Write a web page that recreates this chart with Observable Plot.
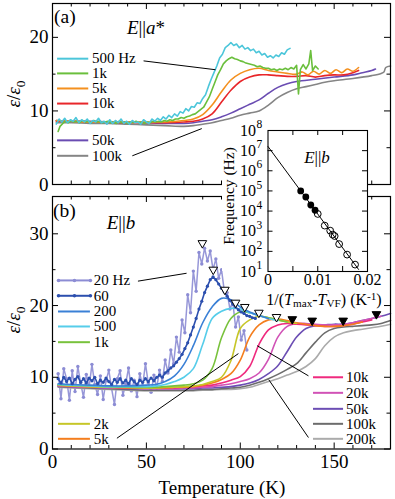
<!DOCTYPE html>
<html><head><meta charset="utf-8">
<script src="https://cdn.jsdelivr.net/npm/d3@7"></script>
<script src="https://cdn.jsdelivr.net/npm/@observablehq/plot@0.6"></script>
<style>
html,body{margin:0;padding:0;background:#fff;}
#wrap{position:relative;width:395px;height:499px;overflow:hidden;background:#fff;font-family:'Liberation Serif',serif;}
#wrap svg{position:absolute;font-family:'Liberation Serif',serif !important;}
#wrap svg text{font-family:'Liberation Serif',serif !important;}
</style></head>
<body><div id="wrap"></div>
<script>
// ---------------- DATA ----------------
// Panel (a): E || a*   (T in K, eps/eps0)
const A_500Hz = [[2,8.2],[3.5,8.9],[5,8.5],[6.5,9.0],[8,8.4],[9.5,8.8],[11,8.6],[12.5,9.1],[14,8.4],[15.5,8.8],[17,8.5],[18.5,8.9],[20,8.3],[21.5,8.7],[23,8.5],[24.5,9.0],[26,8.4],[27.5,8.6],[29,8.2],[30.5,8.8],[32,8.3],[33.5,8.7],[35,8.4],[36.5,8.9],[38,8.3],[39.5,8.6],[41,8.2],[42.5,8.7],[44,8.4],[45.5,8.5],[47,8.2],[48.5,8.8],[50,8.5],[51.5,8.3],[53,8.9],[54.5,8.6],[56,9.0],[57.5,8.7],[59,9.2],[60.5,8.9],[62,9.4],[63.5,9.1],[65,9.6],[66.5,9.3],[68,9.9],[69.5,9.7],[71,10.3],[72.5,10.0],[74,10.6],[75.5,10.5],[77,11.1],[78.5,11.0],[80,11.7],[81.5,12.2],[83,13.3],[84.5,14.3],[86,15.2],[87.5,16.1],[89,17.2],[90.5,17.7],[92,18.6],[93.5,18.9],[95,19.3],[96.5,18.9],[98,19.1],[99.5,18.6],[101,18.9],[102.5,18.4],[104,18.6],[105.5,18.2],[107,18.4],[108.5,17.9],[110,18.1],[111.5,17.6],[113,17.8],[114.5,17.3],[116,17.5],[117.5,17.2],[119,17.6],[120.5,17.4],[122,17.9],[123.5,17.7],[125,18.3],[126.5,18.5]];
const A_1k = [[3,7.2],[4,7.9],[5.5,8.3],[7,8.6],[8.5,8.4],[10,8.7],[11.5,8.5],[13,8.6],[14.5,8.4],[16,8.7],[17.5,8.5],[19,8.6],[20.5,8.4],[22,8.7],[23.5,8.5],[25,8.6],[26.5,8.4],[28,8.5],[29.5,8.6],[31,8.4],[32.5,8.5],[34,8.3],[35.5,8.6],[37,8.4],[38.5,8.5],[40,8.3],[41.5,8.5],[43,8.4],[44.5,8.6],[46,8.4],[47.5,8.5],[49,8.3],[50.5,8.5],[52,8.4],[53.5,8.6],[55,8.5],[56.5,8.6],[58,8.5],[59.5,8.7],[61,8.6],[62.5,8.8],[64,8.7],[65.5,8.9],[67,8.9],[68.5,9.1],[70,9.0],[71.5,9.2],[73,9.3],[74.5,9.5],[76,9.6],[77.5,9.9],[79,10.2],[80.5,10.5],[82,11.2],[83.5,11.9],[85,12.9],[86.5,13.9],[88,14.9],[89.5,15.6],[91,16.4],[92.5,16.8],[94,17.1],[95.5,17.3],[97,17.1],[98.5,17.0],[100,16.8],[101.5,16.7],[103,16.5],[104.5,16.4],[106,16.3],[107.5,16.2],[109,16.0],[110.5,16.1],[112,15.9],[113.5,15.8],[115,15.8],[116.5,15.6],[118,15.7],[119.5,15.5],[121,15.7],[122.5,15.6],[124,15.8],[125.5,15.6],[127,15.9],[128.5,15.7],[130,16.2],[131,12.3],[132,15.6],[133.5,16.3],[135,15.7],[136.5,16.4],[137.5,18.2],[138.5,15.5],[140,16.1],[141.5,15.7]];
const A_5k_T = [2,10,20,30,40,50,60,70,75,80,85,90,95,100,105,110,115,120,125,130,133,136,139,142,145,148,151,154,157,160,163];
const A_5k_V = [8.7,8.6,8.5,8.5,8.5,8.5,8.5,8.7,8.9,9.5,10.8,12.6,14.2,15.1,15.6,15.8,15.5,15.3,15.1,15.0,15.3,14.9,15.4,15.0,15.5,15.1,15.6,15.2,15.7,15.4,15.9];
const A_10k_T = [2,10,20,30,40,50,60,70,75,80,85,90,95,100,105,110,115,120,125,130,135,140,145,150,155,160,163];
const A_10k_V = [8.6,8.6,8.5,8.5,8.4,8.4,8.4,8.5,8.6,8.9,9.6,11.2,12.8,14.0,14.6,14.9,14.9,14.8,14.7,14.7,14.8,14.6,14.8,14.9,14.9,15.2,15.5];
const A_50k_T = [2,10,20,30,40,50,60,70,75,80,85,90,95,100,105,110,115,120,125,130,140,150,160,165,170,172];
const A_50k_V = [8.7,8.6,8.6,8.5,8.5,8.4,8.3,8.3,8.4,8.6,8.8,9.2,9.7,10.3,10.9,11.5,12.4,13.2,13.7,14.0,14.3,14.6,14.9,15.2,15.5,15.7];
const A_100k_T = [2,10,20,30,40,50,60,70,75,80,85,90,95,100,105,110,115,120,125,130,135,140,145,150,160,170,175,176.5,177.5,180];
const A_100k_V = [8.4,8.4,8.3,8.3,8.2,8.1,8.0,7.9,8.0,8.2,8.4,8.7,9.0,9.4,9.7,10.0,10.8,11.8,12.5,13.0,13.3,13.6,13.9,14.1,14.4,14.8,15.1,15.3,15.9,16.1];

// Panel (b): E || b
const B_20Hz = [[3,10.5],[4.5,7.0],[6,11.2],[7.5,9.8],[9,6.8],[10.5,10.9],[12,8.0],[13.5,11.5],[15,9.2],[16.5,7.2],[18,10.4],[19.5,8.6],[21,11.8],[22.5,9.0],[24,7.6],[25.5,10.2],[27,6.9],[28.5,9.5],[30,11.0],[31.5,8.4],[33,6.2],[34.5,9.8],[36,10.9],[37.5,7.5],[39,9.1],[40.5,11.3],[42,8.1],[43.5,9.6],[45,7.3],[46.5,10.5],[48,8.8],[49.5,11.9],[51,9.2],[52.5,7.9],[54,10.3],[55.5,8.5],[57,11.0],[58.5,9.4],[60,12.4],[61.5,10.6],[63,13.8],[64.5,11.9],[66,15.6],[67.5,13.5],[69,18.0],[70.5,16.2],[72,21.5],[73.5,19.0],[75,24.8],[76.5,22.0],[78,27.4],[79.5,25.8],[81,28.0],[82.5,26.2],[84,27.6],[85.5,25.0],[87,26.5],[88.5,23.8],[90,25.0],[91.5,22.0],[93,21.8],[94.5,19.5],[96,20.5],[97.5,17.0],[99,18.4],[100.5,15.2],[102,16.5],[103.5,13.8]];
const B_60Hz = [[3,9.8],[4.5,9.2],[6,10.0],[7.5,9.4],[9,9.9],[10.5,9.1],[12,9.7],[13.5,10.1],[15,9.3],[16.5,9.8],[18,9.2],[19.5,9.9],[21,9.5],[22.5,10.0],[24,9.1],[25.5,9.6],[27,9.3],[28.5,9.9],[30,9.4],[31.5,9.0],[33,9.7],[34.5,9.3],[36,9.8],[37.5,9.2],[39,9.6],[40.5,9.1],[42,9.8],[43.5,9.4],[45,9.0],[46.5,9.6],[48,9.3],[49.5,9.8],[51,9.4],[52.5,9.9],[54,9.5],[55.5,10.0],[57,10.3],[58.5,10.0],[60,10.6],[61.5,10.9],[63,11.3],[64.5,11.6],[66,12.1],[67.5,12.6],[69,13.2],[70.5,14.0],[72,14.8],[73.5,15.9],[75,17.0],[76.5,18.2],[78,19.5],[79.5,20.6],[81,21.8],[82.5,22.7],[84,23.6],[85.5,24.0],[87,23.6],[88.5,23.0],[90,22.4],[91.5,21.9],[93,21.3],[94.5,20.7],[96,20.2],[97.5,19.8],[99,19.4],[100.5,19.1],[102,18.9],[103.5,18.6],[105,18.5],[106.5,18.3],[108,18.2]];
const B_T = [3,10,20,30,40,50,55,60,65,70,75,80,85,90,95,100,105,110,115,120,125,130,135,140,145,150,155,160,165,170,175,180];
const B_200  = [9.1,9.0,8.9,8.8,8.8,8.9,9.0,9.4,10.2,11.8,14.4,17.6,19.8,21.0,20.8,19.8,19.1,18.6,18.2];
const B_500  = [9.0,8.9,8.8,8.7,8.7,8.7,8.8,9.0,9.4,10.0,11.2,14.6,18.2,19.2,19.6,19.5,19.0,18.6,18.2,17.9];
const B_1k   = [9.0,8.9,8.8,8.7,8.6,8.6,8.6,8.7,8.8,8.9,9.1,9.6,11.2,15.5,18.2,19.1,19.0,18.6,18.3,18.0,17.7];
const B_2k   = [8.9,8.8,8.7,8.6,8.6,8.5,8.5,8.6,8.6,8.7,8.8,9.0,9.4,10.0,12.3,16.8,18.0,18.5,18.3,18.0,17.7,17.5];
const B_5k   = [8.9,8.8,8.7,8.6,8.5,8.5,8.5,8.5,8.6,8.6,8.7,8.9,9.2,9.7,10.5,12.4,15.6,17.3,18.0,18.1,17.9,17.6,17.4,17.2,17.1,17.1,17.2,17.4,17.7];
const B_10k  = [8.9,8.8,8.7,8.6,8.5,8.5,8.5,8.5,8.5,8.6,8.7,8.8,8.9,9.2,9.6,10.1,11.5,14.6,16.6,17.3,17.5,17.4,17.3,17.2,17.1,17.1,17.2,17.4,17.7,18.0];
const B_20k  = [8.8,8.7,8.6,8.5,8.5,8.4,8.4,8.4,8.4,8.5,8.5,8.6,8.7,8.9,9.1,9.4,9.8,10.6,12.5,15.6,17.1,17.5,17.5,17.4,17.3,17.3,17.4,17.6,17.9,18.2,18.5];
const B_50k  = [8.8,8.7,8.6,8.5,8.4,8.4,8.4,8.4,8.4,8.4,8.4,8.5,8.5,8.6,8.7,8.9,9.2,9.7,10.5,11.6,13.6,15.6,16.8,17.2,17.3,17.4,17.4,17.6,17.9,18.2,18.5,18.9];
const B_100k = [8.7,8.6,8.5,8.4,8.3,8.2,8.2,8.2,8.2,8.2,8.2,8.3,8.3,8.4,8.5,8.6,8.9,9.3,9.8,10.4,11.1,11.9,13.4,14.9,16.2,16.8,17.0,17.1,17.2,17.3,17.5,17.9];
const B_200k = [8.6,8.5,8.4,8.3,8.2,8.1,8.1,8.1,8.1,8.1,8.1,8.2,8.2,8.3,8.3,8.4,8.6,9.0,9.4,9.8,10.3,10.8,11.5,12.6,14.4,15.6,16.2,16.5,16.7,16.9,17.1,17.4];
// peak markers (T_max)
const PEAK_OPEN_T  = [79.8,85.6,91.8,97.5,102.4,109.9,119.3];
const PEAK_OPEN_V  = [28.7,25.0,22.2,20.4,19.8,19.0,18.4];
const PEAK_FILL_T  = [127.7,138.3,154.8,172.5];
const PEAK_FILL_V  = [18.1,17.9,17.9,18.8];
// inset: Vogel-Fulcher plot
const VF_FILL_X = [0.00657,0.0076,0.0086,0.00946];
const VF_FILL_F = [1e5,5e4,2e4,1.1e4];
const VF_OPEN_X = [0.0100,0.0114,0.0125,0.0130,0.0134,0.0143,0.0159,0.0175];
const VF_OPEN_F = [7200,1900,1070,680,575,230,69,22];
const VF_FIT_X = [0,0.0182];
const VF_FIT_F = [1.6e7,12.7];
// tick values / labels
const X_MAJOR = [0,50,100,150];
const X_MINOR = [10,20,30,40,60,70,80,90,110,120,130,140,160,170];
const YA_MAJOR = [0,10,20], YA_MINOR = [5,15];
const YB_MAJOR = [0,10,20,30], YB_MINOR = [5,15,25];
const IN_X_LABELS = [0,0.01,0.02], IN_X_TICKS = [0.005,0.01,0.015];
const IN_Y_TICKS = [1e1,1e2,1e3,1e4,1e5,1e6,1e7,1e8];
const IN_Y_EXP = ["1","2","3","4","5","6","7","8"];
// legends
const LEG_A = ["500 Hz","1k","5k","10k","50k","100k"];
const LEG_B_LEFT = ["20 Hz","60","200","500","1k","2k","5k"];
const LEG_B_RIGHT = ["10k","20k","50k","100k","200k"];

// ---------------- STYLE / LAYOUT ----------------
const FONT = "'Liberation Serif', serif";
const COL_A = ["#4cc6da","#6abf3c","#f4901e","#e8262a","#6a4cb2","#858585"];
const COL_B = {"20 Hz":"#8c8cd4","60":"#2c4fae","200":"#3a80d6","500":"#56cdea","1k":"#78c23c","2k":"#c6c628","5k":"#f47e1e","10k":"#ef2a7e","20k":"#d152b6","50k":"#6c4eb4","100k":"#6c6c6c","200k":"#ababab"};
const wrap = document.getElementById("wrap");
const pairs = p => p.map(([T,v]) => ({T, v}));
const cols = (T, V) => V.map((v,i) => ({T: T[i], v}));

function boxTicks(w, h, xMaj, xMin, yMaj, yMin, L=6, M=3.5) {
  const o = {stroke:"black", strokeWidth:1};
  const m = [];
  if (xMaj) m.push(Plot.ruleX(xMaj,{x:d=>d, insetTop:h-L, ...o}), Plot.ruleX(xMaj,{x:d=>d, insetBottom:h-L, ...o}));
  if (xMin) m.push(Plot.ruleX(xMin,{x:d=>d, insetTop:h-M, ...o}), Plot.ruleX(xMin,{x:d=>d, insetBottom:h-M, ...o}));
  if (yMaj) m.push(Plot.ruleY(yMaj,{y:d=>d, insetRight:w-L, ...o}), Plot.ruleY(yMaj,{y:d=>d, insetLeft:w-L, ...o}));
  if (yMin) m.push(Plot.ruleY(yMin,{y:d=>d, insetRight:w-M, ...o}), Plot.ruleY(yMin,{y:d=>d, insetLeft:w-M, ...o}));
  return m;
}
function legend(labels, colors, vs, t0, t1, tText, dotted=[]) {
  const rows = labels.map((s,i) => ({s, v: vs[i], c: colors[i]}));
  return [
    Plot.ruleY(rows, {y:"v", x1:t0, x2:t1, stroke:d=>d.c, strokeWidth:2}),
    Plot.dot(rows.filter(d=>dotted.includes(d.s)).flatMap(d=>[t0,(t0+t1)/2,t1].map(t=>({t, v:d.v, c:d.c}))), {x:"t", y:"v", r:1.8, fill:d=>d.c}),
    Plot.text(rows, {x:tText, y:"v", text:"s", textAnchor:"start", fontSize:15, fontFamily:FONT, fill:"black"})
  ];
}
function lab(html, x, y, size, anchor="start", rotate=false, extra="") {
  const d = document.createElement("div");
  d.innerHTML = html;
  const tx = anchor==="middle" ? "-50%" : anchor==="end" ? "-100%" : "0";
  d.style.cssText = `position:absolute;left:${x}px;top:${y}px;font-family:${FONT};font-size:${size}px;white-space:nowrap;line-height:1;transform:translate(${tx},-50%)${rotate?" rotate(-90deg)":""};${extra}`;
  wrap.appendChild(d);
}
const svgStyle = "font-family:'Liberation Serif',serif;font-size:18px;background:transparent;overflow:visible;";

// ---------------- PANEL (a) ----------------
const A_W = 395, A_H = 190, A_ML = 52, A_MR = 5, A_MT = 3, A_MB = 6;
const aw = A_W - A_ML - A_MR, ah = A_H - A_MT - A_MB;
const seriesA = [pairs(A_500Hz), pairs(A_1k), cols(A_5k_T,A_5k_V), cols(A_10k_T,A_10k_V), cols(A_50k_T,A_50k_V), cols(A_100k_T,A_100k_V)];
const drawOrderA = [5,4,3,2,1,0];
const pa = Plot.plot({
  width:A_W, height:A_H, marginLeft:A_ML, marginRight:A_MR, marginTop:A_MT, marginBottom:A_MB,
  x:{domain:[0,180], axis:null, label:null}, y:{domain:[0,24.6], axis:null, label:null},
  style: svgStyle,
  marks:[
    ...drawOrderA.map(i => Plot.line(seriesA[i], {x:"T", y:"v", stroke:COL_A[i], strokeWidth:1.6, curve: i<2 ? "linear" : "catmull-rom"})),
    ...legend(LEG_A, COL_A, [17.1,15.1,13.05,11.0,6.0,3.9], 2.7, 19.3, 21),
    Plot.link([{x1:48.5,y1:16.8,x2:86.8,y2:15.6},{x1:42.5,y1:3.9,x2:79.5,y2:7.6}], {x1:"x1",y1:"y1",x2:"x2",y2:"y2", stroke:"black", strokeWidth:1}),
    ...boxTicks(aw, ah, X_MAJOR, X_MINOR, YA_MAJOR, YA_MINOR),
    Plot.frame({stroke:"black", strokeWidth:1.2}),
    Plot.axisY({ticks:YA_MAJOR, tickSize:0, tickPadding:4, fontSize:19, fontFamily:FONT, label:null})
  ]
});
pa.style.left = "0px"; pa.style.top = "0px";
wrap.appendChild(pa);

// ---------------- PANEL (b) ----------------
const B_TOP = 190, B_W = 395, B_H = 309, B_ML = 52, B_MR = 5, B_MT = 6, B_MB = 50.5;
const bw = B_W - B_ML - B_MR, bh = B_H - B_MT - B_MB;
const smoothB = [["200k",B_200k],["100k",B_100k],["50k",B_50k],["20k",B_20k],["10k",B_10k],["5k",B_5k],["2k",B_2k],["1k",B_1k],["500",B_500],["200",B_200]];
const pb = Plot.plot({
  width:B_W, height:B_H, marginLeft:B_ML, marginRight:B_MR, marginTop:B_MT, marginBottom:B_MB,
  x:{domain:[0,180], axis:null, label:null}, y:{domain:[0,35.2], axis:null, label:null},
  style: svgStyle,
  marks:[
    Plot.line(pairs(B_20Hz), {x:"T", y:"v", stroke:COL_B["20 Hz"], strokeWidth:1.5, strokeOpacity:0.9}),
    Plot.dot(pairs(B_20Hz), {x:"T", y:"v", r:1.7, fill:COL_B["20 Hz"]}),
    ...smoothB.map(([k,V]) => Plot.line(cols(B_T,V), {x:"T", y:"v", stroke:COL_B[k], strokeWidth:1.6, curve:"catmull-rom"})),
    Plot.line(pairs(B_60Hz), {x:"T", y:"v", stroke:COL_B["60"], strokeWidth:1.6}),
    Plot.dot(pairs(B_60Hz), {x:"T", y:"v", r:1.6, fill:COL_B["60"]}),
    Plot.dot(cols(PEAK_OPEN_T,PEAK_OPEN_V), {x:"T", y:"v", symbol:"triangle", rotate:180, r:3.2, fill:"white", stroke:"black", strokeWidth:1}),
    Plot.dot(cols(PEAK_FILL_T,PEAK_FILL_V), {x:"T", y:"v", symbol:"triangle", rotate:180, r:3.2, fill:"black", stroke:"black", strokeWidth:1}),
    ...legend(LEG_B_LEFT, LEG_B_LEFT.map(k=>COL_B[k]), [23.5,21.36,19.17,17.08,14.89,3.51,1.42], 3.2, 20.2, 22, ["20 Hz","60"]),
    ...legend(LEG_B_RIGHT, LEG_B_RIGHT.map(k=>COL_B[k]), [10.0,7.83,5.6,3.51,1.42], 139, 155, 156.3),
    Plot.link([
      {x1:45.5,y1:23.4,x2:71.4,y2:24.5},
      {x1:34.3,y1:1.5,x2:99,y2:13.3},
      {x1:136.3,y1:10.2,x2:109,y2:14.4},
      {x1:136.3,y1:1.6,x2:115.2,y2:9.65}
    ], {x1:"x1",y1:"y1",x2:"x2",y2:"y2", stroke:"black", strokeWidth:1}),
    ...boxTicks(bw, bh, X_MAJOR, X_MINOR, YB_MAJOR, YB_MINOR),
    Plot.frame({stroke:"black", strokeWidth:1.2}),
    Plot.axisY({ticks:YB_MAJOR, tickSize:0, tickPadding:4, fontSize:19, fontFamily:FONT, label:null}),
    Plot.axisX({ticks:X_MAJOR, tickSize:0, tickPadding:5, fontSize:19, fontFamily:FONT, label:null})
  ]
});
pb.style.left = "0px"; pb.style.top = B_TOP + "px";
wrap.appendChild(pb);

// ---------------- INSET ----------------
const I_LEFT = 220, I_TOP = 120, I_W = 165, I_H = 172, I_ML = 47.5, I_MR = 18, I_MT = 10, I_MB = 21;
const iw = I_W - I_ML - I_MR, ih = I_H - I_MT - I_MB;
const bg = document.createElement("div");
bg.style.cssText = `position:absolute;left:${I_LEFT+2}px;top:${I_TOP+2}px;width:${I_ML+iw-2}px;height:${I_MT+ih-2}px;background:#fff;`;
wrap.appendChild(bg);
const pi = Plot.plot({
  width:I_W, height:I_H, marginLeft:I_ML, marginRight:I_MR, marginTop:I_MT, marginBottom:I_MB,
  x:{domain:[0,0.02], axis:null, label:null}, y:{type:"log", domain:[10,1e8], axis:null, label:null},
  style: svgStyle,
  marks:[
    Plot.frame({fill:"white"}),
    Plot.line(cols(VF_FIT_X,VF_FIT_F), {x:"T", y:"v", stroke:"black", strokeWidth:1}),
    Plot.dot(cols(VF_OPEN_X,VF_OPEN_F), {x:"T", y:"v", r:3.4, fill:"none", stroke:"black", strokeWidth:1}),
    Plot.dot(cols(VF_FILL_X,VF_FILL_F), {x:"T", y:"v", r:3.4, fill:"black"}),
    ...boxTicks(iw, ih, IN_X_TICKS, null, IN_Y_TICKS.slice(1,-1), null, 5),
    Plot.frame({stroke:"black", strokeWidth:1.1}),
    Plot.axisX({ticks:IN_X_LABELS, tickSize:0, tickPadding:2, fontSize:16, fontFamily:FONT, label:null, tickFormat:d => d===0 ? "0" : String(d)}),
    Plot.text(IN_Y_TICKS, {y:d=>d, frameAnchor:"left", dx:-12, text:()=>"10", textAnchor:"end", fontSize:16, fontFamily:FONT}),
    Plot.text(IN_Y_TICKS, {y:d=>d, frameAnchor:"left", dx:-11.5, dy:-6, text:(d,i)=>IN_Y_EXP[i], textAnchor:"start", fontSize:11.5, fontFamily:FONT})
  ]
});
pi.style.left = I_LEFT + "px"; pi.style.top = I_TOP + "px";
wrap.appendChild(pi);

// ---------------- TEXT LABELS ----------------
lab("(a)", 54, 17, 19.5);
lab("<i>E</i>||<i>a</i>*", 146, 27, 19, "middle");
lab("(b)", 53, 211, 19.5);
lab("<i>E</i>||<i>b</i>", 121, 222, 19, "middle");
lab("<i>E</i>||<i>b</i>", 317, 157, 17, "middle");
lab("<i>ε</i>/<i>ε</i><sub style='font-size:0.7em'>0</sub>", 16, 94, 19, "middle", true);
lab("<i>ε</i>/<i>ε</i><sub style='font-size:0.7em'>0</sub>", 16, 320, 19, "middle", true);
lab("Frequency (Hz)", 229, 196, 15.5, "middle", true);
lab("1/(<i>T</i><sub style='font-size:0.7em;vertical-align:-0.2em'>max</sub>-<i>T</i><sub style='font-size:0.7em;vertical-align:-0.2em'>VF</sub>) (K<sup style='font-size:0.7em;vertical-align:0.45em'>-1</sup>)", 324, 300, 16, "middle");
lab("Temperature (K)", 222, 487, 19, "middle");
</script>
</body></html>
